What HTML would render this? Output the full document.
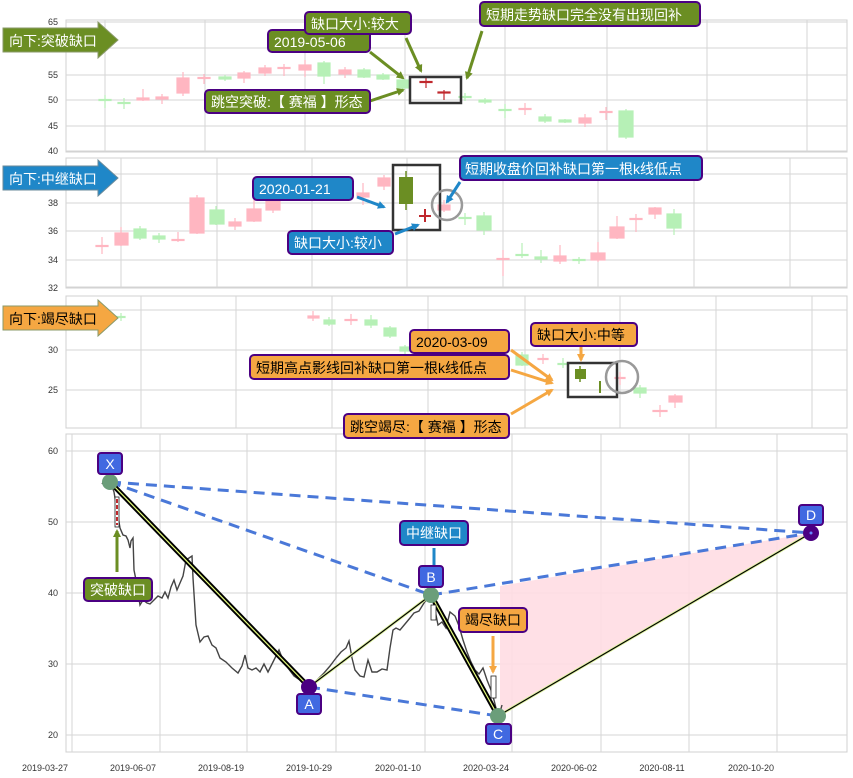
<!DOCTYPE html>
<html><head><meta charset="utf-8"><style>
body{margin:0;background:#fff}
svg{display:block;font-family:"Liberation Sans","Noto Sans CJK SC",sans-serif}
.t{font-size:9px;fill:#333}
.g{stroke:#d6d6d6;stroke-width:1}
.fr{fill:none;stroke:#d0d0d0}
.lw{font-size:14px;fill:#fff}
.lb{font-size:14px;fill:#000}
</style></head><body>
<svg width="853" height="778" viewBox="0 0 853 778">
<defs>
<marker id="ag" markerWidth="8" markerHeight="8" refX="6" refY="4" orient="auto" markerUnits="userSpaceOnUse"><path d="M0,0 L8,4 L0,8z" fill="#6b8e23"/></marker>
<marker id="ab" markerWidth="8" markerHeight="8" refX="6" refY="4" orient="auto" markerUnits="userSpaceOnUse"><path d="M0,0 L8,4 L0,8z" fill="#1f87c8"/></marker>
<marker id="ao" markerWidth="8" markerHeight="8" refX="6" refY="4" orient="auto" markerUnits="userSpaceOnUse"><path d="M0,0 L8,4 L0,8z" fill="#f5a742"/></marker>
</defs>

<!-- PANEL 1 -->
<rect x="66" y="20" width="781" height="132" class="fr"/>
<g class="g">
<line x1="66" y1="22" x2="847" y2="22"/><line x1="66" y1="48" x2="847" y2="48"/><line x1="66" y1="75" x2="847" y2="75"/><line x1="66" y1="100" x2="847" y2="100"/><line x1="66" y1="126" x2="847" y2="126"/><line x1="66" y1="151" x2="847" y2="151"/>
<line x1="105" y1="20" x2="105" y2="152"/><line x1="205" y1="20" x2="205" y2="152"/><line x1="305" y1="20" x2="305" y2="152"/><line x1="405" y1="20" x2="405" y2="152"/><line x1="505" y1="20" x2="505" y2="152"/><line x1="607" y1="20" x2="607" y2="152"/><line x1="707" y1="20" x2="707" y2="152"/><line x1="807" y1="20" x2="807" y2="152"/>
</g>
<g class="t" text-anchor="end"><text x="58" y="25">65</text><text x="58" y="78">55</text><text x="58" y="103">50</text><text x="58" y="129">45</text><text x="58" y="154">40</text></g>
<g stroke-width="1.2">
<g stroke="#b6f0b6" fill="#b6f0b6">
<line x1="105" y1="95" x2="105" y2="108"/><rect x="99" y="99.5" width="12" height="1"/>
<line x1="124" y1="98" x2="124" y2="109"/><rect x="118" y="102.5" width="12" height="1"/>
<line x1="225" y1="75" x2="225" y2="81"/><rect x="219" y="77" width="12" height="2"/>
<line x1="324" y1="61" x2="324" y2="84"/><rect x="318" y="63" width="12" height="13"/>
<line x1="364" y1="68" x2="364" y2="78"/><rect x="358" y="70" width="12" height="7"/>
<line x1="383" y1="73" x2="383" y2="80"/><rect x="377" y="75" width="12" height="4"/>
<line x1="403" y1="78" x2="403" y2="92"/><rect x="397" y="80" width="12" height="8"/>
<line x1="465" y1="93" x2="465" y2="101"/><rect x="459" y="96.5" width="12" height="1"/>
<line x1="485" y1="98" x2="485" y2="104"/><rect x="479" y="100" width="12" height="2"/>
<line x1="505" y1="104" x2="505" y2="118"/><rect x="499" y="109.5" width="12" height="1"/>
<line x1="545" y1="114" x2="545" y2="123"/><rect x="539" y="117" width="12" height="4"/>
<line x1="565" y1="119" x2="565" y2="123"/><rect x="559" y="120" width="12" height="2"/>
<line x1="626" y1="109" x2="626" y2="139"/><rect x="619" y="111" width="14" height="26"/>
</g>
<g stroke="#ffb6c1" fill="#ffb6c1">
<line x1="143" y1="89" x2="143" y2="101"/><rect x="137" y="98" width="12" height="2"/>
<line x1="162" y1="94" x2="162" y2="104"/><rect x="156" y="97" width="12" height="2"/>
<line x1="183" y1="72" x2="183" y2="96"/><rect x="177" y="78" width="12" height="15"/>
<line x1="204" y1="74" x2="204" y2="84"/><rect x="198" y="77.5" width="12" height="1"/>
<line x1="244" y1="71" x2="244" y2="83"/><rect x="238" y="73" width="12" height="5"/>
<line x1="265" y1="65" x2="265" y2="76"/><rect x="259" y="68" width="12" height="5"/>
<line x1="284" y1="64" x2="284" y2="76"/><rect x="278" y="67.5" width="12" height="1"/>
<line x1="305" y1="60" x2="305" y2="77"/><rect x="299" y="65" width="12" height="5"/>
<line x1="345" y1="67" x2="345" y2="78"/><rect x="339" y="70" width="12" height="4"/>
<line x1="525" y1="103" x2="525" y2="115"/><rect x="519" y="108.5" width="12" height="1"/>
<line x1="585" y1="114" x2="585" y2="127"/><rect x="579" y="118" width="12" height="5"/>
<line x1="606" y1="107" x2="606" y2="120"/><rect x="600" y="111.5" width="12" height="1"/>
</g>
<g stroke="#c0282d" fill="#c0282d">
<line x1="426" y1="77" x2="426" y2="88"/><rect x="420" y="81.5" width="12" height="1"/>
<line x1="444" y1="90" x2="444" y2="100"/><rect x="438" y="92" width="12" height="1"/>
</g>
</g>
<rect x="410" y="77" width="51" height="26" fill="none" stroke="#333" stroke-width="2.5"/>

<!-- PANEL 2 -->
<rect x="66" y="158" width="781" height="130" class="fr"/>
<g class="g">
<line x1="66" y1="174" x2="847" y2="174"/><line x1="66" y1="203" x2="847" y2="203"/><line x1="66" y1="231" x2="847" y2="231"/><line x1="66" y1="260" x2="847" y2="260"/><line x1="66" y1="287" x2="847" y2="287"/>
<line x1="121" y1="158" x2="121" y2="288"/><line x1="217" y1="158" x2="217" y2="288"/><line x1="312" y1="158" x2="312" y2="288"/><line x1="407" y1="158" x2="407" y2="288"/><line x1="503" y1="158" x2="503" y2="288"/><line x1="598" y1="158" x2="598" y2="288"/><line x1="694" y1="158" x2="694" y2="288"/><line x1="790" y1="158" x2="790" y2="288"/>
</g>
<g class="t" text-anchor="end"><text x="58" y="206">38</text><text x="58" y="234">36</text><text x="58" y="263">34</text><text x="58" y="291">32</text></g>
<g stroke-width="1.2">
<g stroke="#b6f0b6" fill="#b6f0b6">
<line x1="140" y1="226" x2="140" y2="240"/><rect x="134" y="229" width="12" height="9"/>
<line x1="159" y1="233" x2="159" y2="243"/><rect x="153" y="236" width="12" height="3"/>
<line x1="216" y1="206" x2="216" y2="225"/><rect x="210" y="210" width="14" height="14"/>
<line x1="465" y1="213" x2="465" y2="225"/><rect x="459" y="217.5" width="12" height="1"/>
<line x1="484" y1="212" x2="484" y2="235"/><rect x="477" y="216" width="14" height="14"/>
<line x1="522" y1="243" x2="522" y2="258"/><rect x="516" y="254.5" width="12" height="1"/>
<line x1="541" y1="250" x2="541" y2="263"/><rect x="535" y="257" width="12" height="2"/>
<line x1="579" y1="257" x2="579" y2="264"/><rect x="573" y="259.5" width="12" height="1"/>
<line x1="674" y1="209" x2="674" y2="235"/><rect x="667" y="214" width="14" height="14"/>
</g>
<g stroke="#ffb6c1" fill="#ffb6c1">
<line x1="102" y1="237" x2="102" y2="254"/><rect x="96" y="245.5" width="12" height="1"/>
<line x1="121" y1="227" x2="121" y2="246"/><rect x="115" y="233" width="13" height="12"/>
<line x1="178" y1="232" x2="178" y2="242"/><rect x="172" y="239.5" width="12" height="1"/>
<line x1="197" y1="195" x2="197" y2="234"/><rect x="190" y="198" width="14" height="35"/>
<line x1="235" y1="218" x2="235" y2="230"/><rect x="229" y="222" width="12" height="4"/>
<line x1="254" y1="200" x2="254" y2="222"/><rect x="247" y="209" width="14" height="12"/>
<line x1="273" y1="195" x2="273" y2="213"/><rect x="266" y="200" width="14" height="10"/>
<line x1="363" y1="183" x2="363" y2="205"/><rect x="357" y="193" width="12" height="4"/>
<line x1="384" y1="175" x2="384" y2="190"/><rect x="378" y="178" width="12" height="8"/>
<line x1="444" y1="200" x2="444" y2="212"/><rect x="438" y="205" width="12" height="5"/>
<line x1="503" y1="250" x2="503" y2="276"/><rect x="497" y="258.5" width="12" height="1"/>
<line x1="560" y1="245" x2="560" y2="264"/><rect x="554" y="256" width="12" height="5"/>
<line x1="598" y1="242" x2="598" y2="262"/><rect x="591" y="253" width="14" height="7"/>
<line x1="617" y1="216" x2="617" y2="239"/><rect x="610" y="227" width="14" height="11"/>
<line x1="636" y1="214" x2="636" y2="232"/><rect x="630" y="218.5" width="12" height="1"/>
<line x1="655" y1="207" x2="655" y2="219"/><rect x="649" y="208" width="12" height="6"/>
</g>
<line x1="406" y1="171" x2="406" y2="210" stroke="#6b8e23" stroke-width="1.5"/><rect x="399" y="177" width="14" height="27" fill="#6b8e23"/>
<g stroke="#c0282d" stroke-width="2"><line x1="425" y1="209" x2="425" y2="222"/><line x1="419" y1="216" x2="431" y2="216"/></g>
</g>
<rect x="393" y="165" width="47" height="65" fill="none" stroke="#333" stroke-width="2.5"/>
<circle cx="447" cy="205" r="15" fill="none" stroke="#999" stroke-width="2.5"/>

<!-- PANEL 3 -->
<rect x="66" y="296" width="781" height="132" class="fr"/>
<g class="g">
<line x1="66" y1="310" x2="847" y2="310"/><line x1="66" y1="350" x2="847" y2="350"/><line x1="66" y1="390" x2="847" y2="390"/>
<line x1="141" y1="296" x2="141" y2="428"/><line x1="236" y1="296" x2="236" y2="428"/><line x1="332" y1="296" x2="332" y2="428"/><line x1="428" y1="296" x2="428" y2="428"/><line x1="525" y1="296" x2="525" y2="428"/><line x1="620" y1="296" x2="620" y2="428"/><line x1="716" y1="296" x2="716" y2="428"/><line x1="812" y1="296" x2="812" y2="428"/>
</g>
<g class="t" text-anchor="end"><text x="58" y="353">30</text><text x="58" y="393">25</text></g>
<g stroke-width="1.2">
<g stroke="#b6f0b6" fill="#b6f0b6">
<line x1="121" y1="313" x2="121" y2="321"/><rect x="115" y="316.5" width="10" height="1"/>
<line x1="329" y1="317" x2="329" y2="326"/><rect x="324" y="320" width="11" height="4"/>
<line x1="371" y1="315" x2="371" y2="328"/><rect x="365" y="320" width="12" height="5"/>
<line x1="390" y1="326" x2="390" y2="338"/><rect x="384" y="328" width="12" height="8"/>
<line x1="405" y1="345" x2="405" y2="354"/><rect x="400" y="347" width="10" height="4"/>
<line x1="522" y1="352" x2="522" y2="366"/><rect x="516" y="355" width="12" height="10"/>
<line x1="563" y1="358" x2="563" y2="368"/><rect x="558" y="363.5" width="10" height="1"/>
<line x1="640" y1="385" x2="640" y2="398"/><rect x="634" y="388" width="12" height="5"/>
</g>
<g stroke="#ffb6c1" fill="#ffb6c1">
<line x1="313" y1="311" x2="313" y2="321"/><rect x="308" y="316" width="11" height="2"/>
<line x1="351" y1="314" x2="351" y2="325"/><rect x="345" y="319.5" width="12" height="1"/>
<line x1="543" y1="354" x2="543" y2="364"/><rect x="538" y="358.5" width="10" height="1"/>
<line x1="620" y1="372" x2="620" y2="385"/><rect x="615" y="377.5" width="10" height="1"/>
<line x1="660" y1="405" x2="660" y2="417"/><rect x="653" y="410.5" width="14" height="1"/>
<line x1="675" y1="394" x2="675" y2="408"/><rect x="669" y="396" width="13" height="6"/>
</g>
<line x1="580" y1="366" x2="580" y2="382" stroke="#6b8e23" stroke-width="1.5"/><rect x="575" y="369" width="11" height="10" fill="#6b8e23"/>
<line x1="600" y1="381" x2="600" y2="393" stroke="#6b8e23" stroke-width="2"/>
</g>
<rect x="568" y="363" width="49" height="34" fill="none" stroke="#333" stroke-width="2.5"/>
<circle cx="622" cy="377" r="16" fill="none" stroke="#999" stroke-width="2.5"/>

<!-- PANEL 4 -->
<rect x="66" y="434" width="781" height="318" class="fr"/>
<g class="g">
<line x1="66" y1="451" x2="847" y2="451"/><line x1="66" y1="522" x2="847" y2="522"/><line x1="66" y1="593" x2="847" y2="593"/><line x1="66" y1="664" x2="847" y2="664"/><line x1="66" y1="735" x2="847" y2="735"/>
<line x1="72" y1="434" x2="72" y2="752"/><line x1="160" y1="434" x2="160" y2="752"/><line x1="247" y1="434" x2="247" y2="752"/><line x1="336" y1="434" x2="336" y2="752"/><line x1="425" y1="434" x2="425" y2="752"/><line x1="512" y1="434" x2="512" y2="752"/><line x1="601" y1="434" x2="601" y2="752"/><line x1="689" y1="434" x2="689" y2="752"/><line x1="777" y1="434" x2="777" y2="752"/>
</g>
<g class="t" text-anchor="end"><text x="58" y="454">60</text><text x="58" y="525">50</text><text x="58" y="596">40</text><text x="58" y="667">30</text><text x="58" y="738">20</text></g>
<g class="t" text-anchor="middle"><text x="45" y="771">2019-03-27</text><text x="133" y="771">2019-06-07</text><text x="221" y="771">2019-08-19</text><text x="309" y="771">2019-10-29</text><text x="398" y="771">2020-01-10</text><text x="486" y="771">2020-03-24</text><text x="574" y="771">2020-06-02</text><text x="662" y="771">2020-08-11</text><text x="751" y="771">2020-10-20</text></g>

<polygon points="500,586 811,533 500,716" fill="#ffdde3" opacity="0.9"/>

<polyline fill="none" stroke="#444" stroke-width="1.4" points="102,484 106,478 110,480 114,492 117,510 120,528 123,535 126,536 128,540 130,548 131,541 133,538 134,570 136,580 140,605 143,600 147,603 150,604 154,600 158,596 162,598 165,592 168,598 171,587 174,580 177,590 180,583 183,576 186,560 189,558 192,556 193,578 196,625 200,642 204,637 208,636 212,645 216,648 220,658 226,662 232,668 238,673 242,666 245,655 248,668 252,670 256,668 260,672 264,664 268,672 272,664 276,656 279,650 283,660 288,668 294,676 300,680 305,684 309,687 313,684 318,679 324,673 330,666 336,658 341,652 346,648 349,641 352,658 355,670 360,676 364,677 368,660 372,672 377,672 382,669 387,670 390,648 393,630 396,628 400,630 405,624 410,618 414,613 419,611 424,603 428,598 431,596 434,605 438,625 442,622 446,628 450,612 455,616 459,626 463,640 467,652 471,662 475,670 479,674 483,668 487,680 491,690 494,700 497,712 499,716 502,705"/>

<g stroke="#4a78d8" stroke-width="3" stroke-dasharray="11,7" fill="none">
<line x1="110" y1="482" x2="811" y2="533"/>
<line x1="110" y1="482" x2="431" y2="595"/>
<line x1="431" y1="595" x2="811" y2="533"/>
<line x1="309" y1="687" x2="498" y2="716"/>
</g>
<g fill="none">
<line x1="110" y1="482" x2="309" y2="687" stroke="#000" stroke-width="5"/>
<line x1="110" y1="482" x2="309" y2="687" stroke="#e8ff80" stroke-width="1.2"/>
<line x1="431" y1="595" x2="498" y2="716" stroke="#000" stroke-width="5"/>
<line x1="431" y1="595" x2="498" y2="716" stroke="#e8ff80" stroke-width="1.2"/>
<line x1="309" y1="687" x2="431" y2="595" stroke="#e0f5a0" stroke-width="3"/>
<line x1="309" y1="687" x2="431" y2="595" stroke="#000" stroke-width="1.2"/>
<line x1="498" y1="716" x2="811" y2="533" stroke="#e0f5a0" stroke-width="3"/>
<line x1="498" y1="716" x2="811" y2="533" stroke="#000" stroke-width="1.2"/>
</g>
<rect x="115" y="497" width="4" height="30" fill="#fff" stroke="#222" stroke-width="0.8"/>
<line x1="117" y1="499" x2="117" y2="525" stroke="#c0282d" stroke-width="2" stroke-dasharray="4,2"/>
<rect x="431" y="605" width="5" height="15" fill="#fff" stroke="#222" stroke-width="0.8"/>
<rect x="491" y="676" width="5" height="22" fill="#fff" stroke="#222" stroke-width="0.8"/>

<circle cx="110" cy="482" r="8" fill="#6b9e7a"/>
<circle cx="309" cy="687" r="8" fill="#4b0082"/>
<circle cx="431" cy="595" r="8" fill="#6b9e7a"/>
<circle cx="498" cy="716" r="8" fill="#6b9e7a"/>
<circle cx="811" cy="533" r="8" fill="#4b0082"/><circle cx="811" cy="533" r="1.5" fill="#6688ff"/>

<line x1="117" y1="572" x2="117" y2="531" stroke="#6b8e23" stroke-width="3" marker-end="url(#ag)"/>
<line x1="493" y1="636" x2="493" y2="672" stroke="#f5a742" stroke-width="3" marker-end="url(#ao)"/>
<line x1="434" y1="548" x2="434" y2="566" stroke="#1f87c8" stroke-width="3"/>

<g stroke="#4b0082" stroke-width="2" fill="#4169e1">
<rect x="98" y="453" width="24" height="21" rx="3"/><rect x="297" y="694" width="24" height="20" rx="3"/><rect x="419" y="566" width="24" height="21" rx="3"/><rect x="486" y="724" width="25" height="20" rx="3"/><rect x="799" y="505" width="24" height="20" rx="3"/>
</g>
<g class="lw" text-anchor="middle"><text x="110" y="469">X</text><text x="309" y="709">A</text><text x="431" y="582">B</text><text x="498" y="739">C</text><text x="811" y="520">D</text></g>

<rect x="84" y="578" width="68" height="23" rx="4" fill="#6b8e23" stroke="#4b0082" stroke-width="2"/><text x="118" y="595" class="lw" text-anchor="middle">突破缺口</text>
<rect x="400" y="521" width="68" height="24" rx="4" fill="#1f87c8" stroke="#4b0082" stroke-width="2"/><text x="434" y="538" class="lw" text-anchor="middle">中继缺口</text>
<rect x="459" y="608" width="68" height="24" rx="4" fill="#f5a742" stroke="#4b0082" stroke-width="2"/><text x="493" y="625" class="lb" text-anchor="middle">竭尽缺口</text>

<!-- panel 1 annotations -->
<polygon points="3,28 98,28 98,22 118,40 98,58 98,52 3,52" fill="#6b8e23" stroke="#8a9a6a"/>
<text x="9" y="46" class="lw">向下:突破缺口</text>
<g stroke="#6b8e23" stroke-width="3" fill="none">
<line x1="370" y1="52" x2="403" y2="78" marker-end="url(#ag)"/>
<line x1="370" y1="101" x2="403" y2="90" marker-end="url(#ag)"/>
<line x1="406" y1="38" x2="421" y2="71" marker-end="url(#ag)"/>
<line x1="482" y1="31" x2="467" y2="78" marker-end="url(#ag)"/>
</g>
<g stroke="#4b0082" stroke-width="2" fill="#6b8e23">
<rect x="268" y="30" width="102" height="22" rx="4"/><rect x="305" y="12" width="106" height="22" rx="4"/><rect x="480" y="2" width="220" height="24" rx="4"/><rect x="205" y="90" width="165" height="23" rx="4"/>
</g>
<g class="lw"><text x="274" y="47">2019-05-06</text><text x="311" y="29">缺口大小:较大</text><text x="486" y="20">短期走势缺口完全没有出现回补</text><text x="211" y="107">跳空突破:【 赛福 】形态</text></g>

<!-- panel 2 annotations -->
<polygon points="3,166 98,166 98,160 118,178 98,196 98,190 3,190" fill="#1f87c8" stroke="#6a8a9a"/>
<text x="9" y="184" class="lw">向下:中继缺口</text>
<g stroke="#1f87c8" stroke-width="3" fill="none">
<line x1="357" y1="197" x2="384" y2="207" marker-end="url(#ab)"/>
<line x1="395" y1="234" x2="418" y2="225" marker-end="url(#ab)"/>
<line x1="460" y1="182" x2="447" y2="202" marker-end="url(#ab)"/>
</g>
<g stroke="#4b0082" stroke-width="2" fill="#1f87c8">
<rect x="253" y="177" width="100" height="23" rx="4"/><rect x="288" y="231" width="105" height="23" rx="4"/><rect x="460" y="156" width="242" height="24" rx="4"/>
</g>
<g class="lw"><text x="259" y="194">2020-01-21</text><text x="294" y="248">缺口大小:较小</text><text x="465" y="174">短期收盘价回补缺口第一根k线低点</text></g>

<!-- panel 3 annotations -->
<polygon points="3,306 98,306 98,300 118,318 98,336 98,330 3,330" fill="#f5a742" stroke="#8a9a6a"/>
<text x="9" y="324" class="lb">向下:竭尽缺口</text>
<g stroke="#f5a742" stroke-width="3" fill="none">
<line x1="511" y1="350" x2="552" y2="380" marker-end="url(#ao)"/>
<line x1="511" y1="370" x2="552" y2="383" marker-end="url(#ao)"/>
<line x1="511" y1="414" x2="552" y2="390" marker-end="url(#ao)"/>
<line x1="581" y1="347" x2="581" y2="360" marker-end="url(#ao)"/>
</g>
<g stroke="#4b0082" stroke-width="2" fill="#f5a742">
<rect x="410" y="330" width="99" height="23" rx="4"/><rect x="250" y="355" width="259" height="24" rx="4"/><rect x="531" y="323" width="106" height="23" rx="4"/><rect x="344" y="414" width="165" height="24" rx="4"/>
</g>
<g class="lb"><text x="416" y="347">2020-03-09</text><text x="256" y="373">短期高点影线回补缺口第一根k线低点</text><text x="537" y="340">缺口大小:中等</text><text x="350" y="432">跳空竭尽:【 赛福 】形态</text></g>
</svg>
</body></html>
